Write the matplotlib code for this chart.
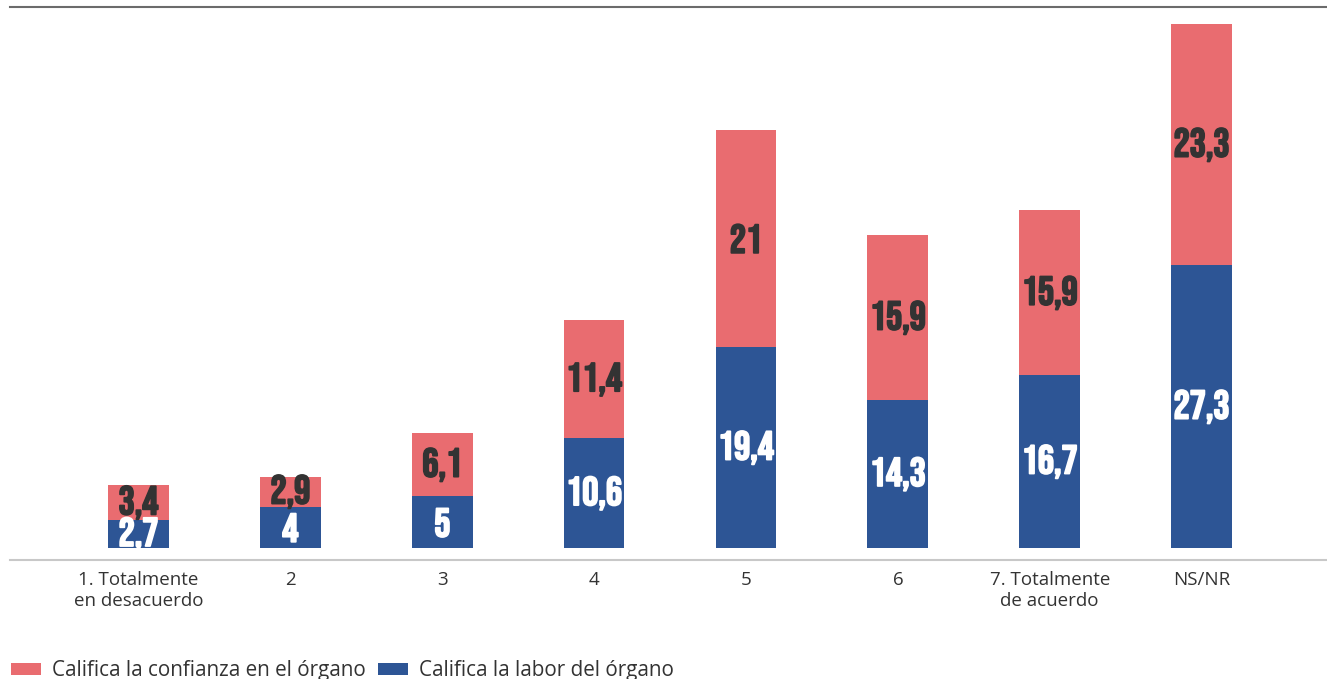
import matplotlib
matplotlib.use("Agg")
import matplotlib.pyplot as plt
import matplotlib.patheffects as pe
import numpy as np

# datos
categorias = ["1. Totalmente\nen desacuerdo", "2", "3", "4", "5", "6", "7. Totalmente\nde acuerdo", "NS/NR"]
labor = [2.7, 4, 5, 10.6, 19.4, 14.3, 16.7, 27.3]
confianza = [3.4, 2.9, 6.1, 11.4, 21, 15.9, 15.9, 23.3]

rojo = "#E96C70"
azul = "#2D5595"
num_font = ["Bebas Neue", "DejaVu Sans"]

plt.rcParams["font.family"] = ["Open Sans", "DejaVu Sans"]

fig = plt.figure(figsize=(13.27, 6.79), dpi=100)
ax = fig.add_axes([10 / 1327, 1 - 560 / 679, 1317 / 1327, 553 / 679])

x = np.arange(len(categorias))
b1 = ax.bar(x, labor, width=0.40, color=azul, label="Califica la labor del órgano")
b2 = ax.bar(x, confianza, width=0.40, bottom=labor, color=rojo,
            label="Califica la confianza en el órgano")

def fmt(v):
    return ("%g" % v).replace(".", ",")

# etiquetas de valores (trazo extra para engrosar la fuente)
for i in range(len(x)):
    ax.text(x[i], labor[i] / 2, fmt(labor[i]), ha="center", va="center",
            color="white", fontsize=29, family=num_font,
            path_effects=[pe.withStroke(linewidth=1.3, foreground="white")])
    ax.text(x[i], labor[i] + confianza[i] / 2, fmt(confianza[i]), ha="center", va="center",
            color="#333333", fontsize=29, family=num_font,
            path_effects=[pe.withStroke(linewidth=1.3, foreground="#333333")])

ax.set_xlim(-0.846, 7.826)
ax.set_ylim(-1.159, 52.24)
ax.set_yticks([])
ax.set_xticks(x)
ax.set_xticklabels(categorias, fontsize=13.5, color="#333333", linespacing=1.2)
ax.tick_params(axis="x", length=0, pad=8)

ax.spines["left"].set_visible(False)
ax.spines["right"].set_visible(False)
ax.spines["top"].set_color("#6b6b6b")
ax.spines["top"].set_linewidth(1.5)
ax.spines["bottom"].set_color("#c8c8c8")
ax.spines["bottom"].set_linewidth(1.5)

leg = fig.legend(handles=[b2, b1], loc="lower left", bbox_to_anchor=(-0.0055, -0.031),
                 ncol=2, frameon=False, fontsize=14.9, handlelength=1.45, handleheight=0.5,
                 handletextpad=0.53, columnspacing=0.6, labelcolor="#333333")

fig.savefig("out.png", dpi=100)
